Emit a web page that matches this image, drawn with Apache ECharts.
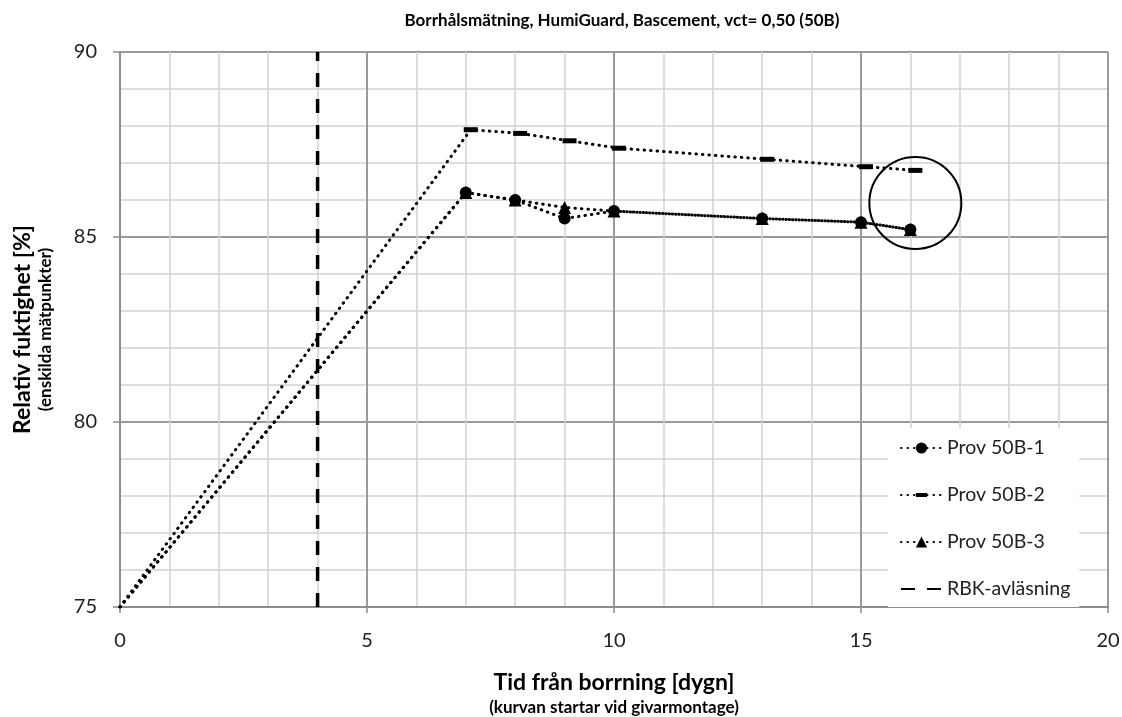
<!DOCTYPE html>
<html>
<head>
<meta charset="utf-8">
<script src="https://cdn.jsdelivr.net/npm/echarts@6/dist/echarts.min.js"></script>
<style>html,body{margin:0;padding:0;background:#fff}#c{width:1122px;height:717px}</style>
</head>
<body>
<div id="c"></div>
<script>
// Data (days, relative humidity %)
const prov1X = [0, 7, 8, 9, 10, 13, 15, 16];
const prov1Y = [75, 86.2, 86.0, 85.5, 85.7, 85.5, 85.4, 85.2];
const prov2X = [0, 7.1, 8.1, 9.1, 10.1, 13.1, 15.1, 16.1];
const prov2Y = [75, 87.9, 87.8, 87.6, 87.4, 87.1, 86.9, 86.8];
const prov3X = [0, 7, 8, 9, 10, 13, 15, 16];
const prov3Y = [75, 86.2, 86.0, 85.8, 85.7, 85.5, 85.4, 85.2];
const rbkX = [4, 4];
const rbkY = [75, 90];
const circleAt = [16.1, 85.92];
const seriesNames = ['Prov 50B-1', 'Prov 50B-2', 'Prov 50B-3', 'RBK-avläsning'];
const titleText = 'Borrhålsmätning, HumiGuard, Bascement, vct= 0,50 (50B)';

const FONT = 'Lato, "Open Sans", sans-serif';
function pts(xs, ys) {
  return xs.map((x, i) => i === 0
    ? { value: [x, ys[i]], symbol: 'none' }
    : [x, ys[i]]);
}
const dotted = { color: '#000', width: 3, type: [0.5, 6], cap: 'round' };
// dash-shaped marker inside a square bounding box
const dashSymbol = 'path://M0,0L14,0L14,5L0,5Z M0,-4.5 M0,9.5';

const chart = echarts.init(document.getElementById('c'));
chart.setOption({
  animation: false,
  backgroundColor: '#fff',
  title: {
    text: titleText, left: 617, top: 7, textAlign: 'center',
    textStyle: { fontFamily: FONT, fontSize: 17, fontWeight: 'bold', color: '#000' }
  },
  grid: { left: 120, right: 14, top: 52, bottom: 110, outerBoundsMode: 'none' },
  xAxis: {
    type: 'value', min: 0, max: 20, interval: 5,
    name: '{a|Tid från borrning [dygn]}\n{b|(kurvan startar vid givarmontage)}',
    nameLocation: 'middle', nameGap: 62,
    nameTextStyle: {
      rich: {
        a: { fontFamily: FONT, fontSize: 23, fontWeight: 'bold', color: '#000', lineHeight: 28 },
        b: { fontFamily: FONT, fontSize: 17, fontWeight: 'bold', color: '#000', lineHeight: 22 }
      }
    },
    axisLine: { onZero: false, lineStyle: { color: '#8c8c8c', width: 2 } },
    axisTick: { show: true, length: 6, lineStyle: { color: '#8c8c8c', width: 1.5 } },
    axisLabel: { fontFamily: FONT, fontSize: 20, color: '#222', margin: 24 },
    splitLine: { show: true, lineStyle: { color: '#9a9a9a', width: 2 } },
    minorTick: { show: false, splitNumber: 5 },
    minorSplitLine: { show: true, lineStyle: { color: '#d2d2d2', width: 1.5 } }
  },
  yAxis: {
    type: 'value', min: 75, max: 90, interval: 5,
    name: '{a|Relativ fuktighet [%]}\n{b|(enskilda mätpunkter)}',
    nameLocation: 'middle', nameGap: 64, nameRotate: 90,
    nameTextStyle: {
      rich: {
        a: { fontFamily: FONT, fontSize: 23, fontWeight: 'bold', color: '#000', lineHeight: 26 },
        b: { fontFamily: FONT, fontSize: 17, fontWeight: 'bold', color: '#000', lineHeight: 20 }
      }
    },
    axisLine: { show: true, onZero: false, lineStyle: { color: '#8c8c8c', width: 2 } },
    axisTick: { show: true, length: 7, lineStyle: { color: '#8c8c8c', width: 1.5 } },
    axisLabel: { fontFamily: FONT, fontSize: 20, color: '#222', margin: 23 },
    splitLine: { show: true, lineStyle: { color: '#9a9a9a', width: 2 } },
    minorTick: { show: false, splitNumber: 5 },
    minorSplitLine: { show: true, lineStyle: { color: '#d2d2d2', width: 1.5 } }
  },
  legend: {
    orient: 'vertical', left: 888, top: 428,
    padding: [10, 9, 8, 12], itemGap: 27,
    itemWidth: 41, itemHeight: 14,
    backgroundColor: '#fff',
    data: [
      { name: seriesNames[0] },
      { name: seriesNames[1] },
      { name: seriesNames[2] },
      { name: seriesNames[3], itemStyle: { color: 'rgba(0,0,0,0)', borderWidth: 0 } }
    ],
    textStyle: { fontFamily: FONT, fontSize: 19.5, color: '#222' }
  },
  series: [
    {
      name: seriesNames[0], type: 'line', data: pts(prov1X, prov1Y),
      symbol: 'circle', symbolSize: 12, showAllSymbol: true,
      lineStyle: dotted, itemStyle: { color: '#000' }, z: 3,
      markPoint: {
        symbol: 'circle', symbolSize: 92, silent: true,
        itemStyle: { color: 'rgba(0,0,0,0)', borderColor: '#000', borderWidth: 2 },
        label: { show: false },
        data: [{ coord: circleAt }]
      }
    },
    {
      name: seriesNames[1], type: 'line', data: pts(prov2X, prov2Y),
      symbol: dashSymbol, symbolSize: 14, showAllSymbol: true,
      lineStyle: dotted, itemStyle: { color: '#000' }, z: 3
    },
    {
      name: seriesNames[2], type: 'line', data: pts(prov3X, prov3Y),
      symbol: 'triangle', symbolSize: 13, showAllSymbol: true,
      lineStyle: dotted, itemStyle: { color: '#000' }, z: 3
    },
    {
      name: seriesNames[3], type: 'line', data: rbkX.map((x, i) => [x, rbkY[i]]),
      symbol: 'none',
      lineStyle: { color: '#000', width: 3.5, type: [14, 12] },
      itemStyle: { color: '#000' }, z: 2
    }
  ]
});
</script>
</body>
</html>
